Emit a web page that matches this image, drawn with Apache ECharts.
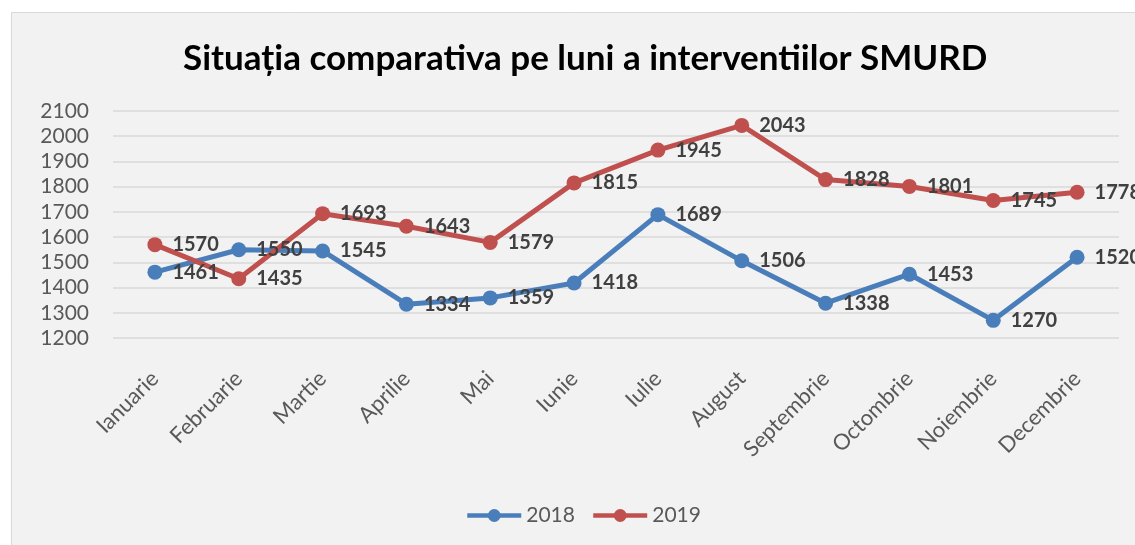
<!doctype html>
<meta charset="utf-8">
<style>
  html, body { margin: 0; padding: 0; width: 100%; height: 100%; background: #fff; }
  #chart { width: 1135px; height: 545px; }
</style>
<script src="https://cdn.jsdelivr.net/npm/echarts@6/dist/echarts.min.js"></script>

<div id="chart"></div>

<script>
  const months = ['Ianuarie', 'Februarie', 'Martie', 'Aprilie', 'Mai', 'Iunie',
    'Iulie', 'August', 'Septembrie', 'Octombrie', 'Noiembrie', 'Decembrie'];
  const y2018 = [1461, 1550, 1545, 1334, 1359, 1418, 1689, 1506, 1338, 1453, 1270, 1520];
  const y2019 = [1570, 1435, 1693, 1643, 1579, 1815, 1945, 2043, 1828, 1801, 1745, 1778];

  const FONT = 'Lato';
  let chart = echarts.init(document.getElementById('chart'));

  function lineSeries(name, data, color) {
    return {
      name: name,
      type: 'line',
      data: data,
      symbol: 'circle',
      symbolSize: 15,
      lineStyle: { width: 5, color: color },
      itemStyle: { color: color },
      label: {
        show: true,
        position: 'right',
        distance: 10,
        fontFamily: FONT,
        fontWeight: 'bold',
        fontSize: 20,
        color: '#404040'
      },
      emphasis: { disabled: true }
    };
  }

  chart.setOption({
    backgroundColor: '#fff',
    animation: false,
    graphic: [{
      type: 'rect',
      z: -10,
      shape: { x: 11.5, y: 12.5, width: 1140, height: 540 },
      style: { fill: '#f2f2f2', stroke: '#d9d9d9', lineWidth: 1 }
    }],
    title: {
      text: 'Situația comparativa pe luni a interventiilor SMURD',
      left: 178,
      top: 36,
      textStyle: { fontFamily: FONT, fontWeight: 'bold', fontSize: 35, color: '#000' }
    },
    legend: {
      top: 500,
      left: 460,
      itemWidth: 54,
      itemHeight: 16,
      itemGap: 16,
      lineStyle: { width: 4.5 },
      textStyle: { fontFamily: FONT, fontSize: 21, color: '#595959' },
      data: ['2018', '2019']
    },
    grid: { left: 113, right: 16, top: 111, bottom: 207 },
    xAxis: {
      type: 'category',
      data: months,
      boundaryGap: true,
      axisLine: { show: false },
      axisTick: { show: false },
      axisLabel: {
        rotate: 45,
        margin: 37,
        fontFamily: FONT,
        fontSize: 22,
        color: '#595959',
        interval: 0
      }
    },
    yAxis: {
      type: 'value',
      min: 1200,
      max: 2100,
      interval: 100,
      axisLine: { show: false },
      axisTick: { show: false },
      splitLine: { lineStyle: { color: '#d9d9d9', width: 1.5 } },
      axisLabel: {
        margin: 24,
        fontFamily: FONT,
        fontSize: 21,
        color: '#595959',
        formatter: v => String(v)
      }
    },
    series: [
      lineSeries('2018', y2018, '#4a7ebb'),
      lineSeries('2019', y2019, '#c0504d')
    ]
  });
</script>
